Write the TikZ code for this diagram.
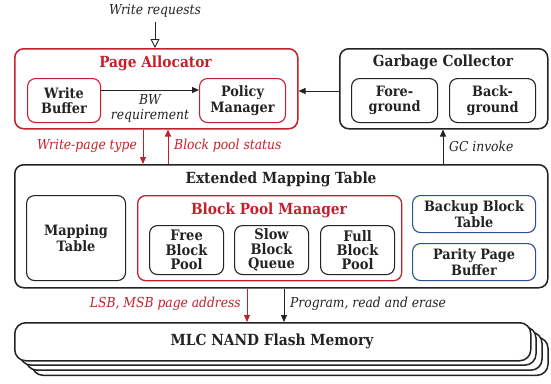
\documentclass[tikz,border=0pt]{standalone}
\usepackage{fontspec}
\setmainfont{DejaVu Serif Condensed}
\usetikzlibrary{arrows.meta}
\definecolor{pared}{RGB}{196,32,44}
\definecolor{pablue}{RGB}{40,80,150}
\definecolor{ink}{RGB}{35,35,35}
\tikzset{
  x=1pt, y=-1pt,
  outerbox/.style={draw=ink, line width=1.5pt, rounded corners=9pt, anchor=north west, inner sep=0pt},
  innerbox/.style={draw=ink, line width=1.1pt, rounded corners=8pt, anchor=north west, inner sep=0pt,
    align=center, text=ink, font=\bfseries\fontsize{14.3}{15.5}\selectfont},
  poolbox/.style={innerbox, minimum width=74pt, minimum height=49pt, font=\bfseries\fontsize{14.5}{14.3}\selectfont},
  title/.style={font=\bfseries\fontsize{15.3}{17}\selectfont, text=ink, inner sep=0pt},
  lbl/.style={font=\itshape\fontsize{13.7}{15}\selectfont, text=ink, inner sep=0pt},
  arr/.style={draw=ink, line width=0.9pt, -{Triangle[length=7pt,width=6pt]}},
  redarr/.style={draw=pared, line width=0.9pt, -{Triangle[length=7pt,width=6pt]}},
}
\begin{document}
\begin{tikzpicture}
\useasboundingbox (0,0) rectangle (551,383);

% Page allocator
\node[outerbox, draw=pared, minimum width=283pt, minimum height=80pt] (pa) at (14,48) {};
\node[title, text=pared] (patitle) at (155.5,63) {Page Allocator};
\node[innerbox, draw=pared, minimum width=73pt, minimum height=44pt] (wb) at (27,78) {Write\\Buffer};
\node[innerbox, draw=pared, minimum width=86pt, minimum height=44pt] (pm) at (199,78) {Policy\\Manager};
\draw[arr] (wb.east |- 0,90) -- (pm.west |- 0,90);
\node[lbl, align=center] (bw) at (150,108) {BW\\requirement};

% Garbage collector
\node[outerbox, minimum width=208pt, minimum height=80pt] (gc) at (339,48) {};
\node[title] (gctitle) at (443,62) {Garbage Collector};
\node[innerbox, minimum width=86pt, minimum height=44pt] (fg) at (351,78) {Fore-\\ground};
\node[innerbox, minimum width=86pt, minimum height=44pt] (bg) at (449,78) {Back-\\ground};
\draw[arr] (gc.west |- 0,91) -- (pa.east |- 0,91);

% Incoming requests
\node[lbl] (wr) at (155,11) {Write requests};
\draw[draw=ink, line width=0.9pt, -{Triangle[open,length=9pt,width=9pt]}] (wr.south |- 0,22) -- (wr.south |- pa.north);

% Extended mapping table
\node[outerbox, minimum width=533pt, minimum height=123pt] (emt) at (14,164) {};
\node[title] (emttitle) at (281,179) {Extended Mapping Table};
\node[innerbox, minimum width=99pt, minimum height=85pt] (mt) at (26,195) {Mapping\\Table};
\node[innerbox, draw=pared, line width=1.3pt, minimum width=264pt, minimum height=85pt] (bpm) at (137,195) {};
\node[title, text=pared] (bpmtitle) at (269,210) {Block Pool Manager};
\node[poolbox] (fbp) at (149,225) {Free\\Block\\Pool};
\node[poolbox] (sbq) at (234,225) {Slow\\Block\\Queue};
\node[poolbox] (ffp) at (320,225) {Full\\Block\\Pool};
\node[innerbox, draw=pablue, minimum width=123pt, minimum height=37pt] (bbt) at (412,195) {Backup Block\\Table};
\node[innerbox, draw=pablue, minimum width=123pt, minimum height=37pt] (ppb) at (412,243) {Parity Page\\Buffer};

% Links between allocator, collector and table
\draw[redarr] (pa.south -| 143,0) -- (emt.north -| 143,0);
\node[lbl, text=pared, anchor=east] (wpt) at (137,146) {Write-page type};
\draw[redarr] (emt.north -| 168,0) -- (pa.south -| 168,0);
\node[lbl, text=pared, anchor=west] (bps) at (174,146) {Block pool status};
\draw[arr] (emt.north -| 443,0) -- (gc.south -| 443,0);
\node[lbl, anchor=west] (gci) at (449,146) {GC invoke};

% Flash memory stack
\foreach \d in {18,12,6} {
  \draw[line width=1.5pt, draw=ink, fill=white, rounded corners=11pt] (14+\d,322+\d*0.85) rectangle ++(516,38);
}
\node[outerbox, fill=white, rounded corners=11pt, minimum width=516pt, minimum height=38pt] (nand) at (14,322) {};
\node[title] (nandtitle) at (272,341) {MLC NAND Flash Memory};

% Links between table and flash
\draw[redarr] (emt.south -| 247,0) -- (nand.north -| 247,0);
\node[lbl, text=pared, anchor=east] (lsb) at (241,304) {LSB, MSB page address};
\draw[arr] (emt.south -| 284,0) -- (nand.north -| 284,0);
\node[lbl, anchor=west] (prg) at (290,304) {Program, read and erase};
\end{tikzpicture}
\end{document}
